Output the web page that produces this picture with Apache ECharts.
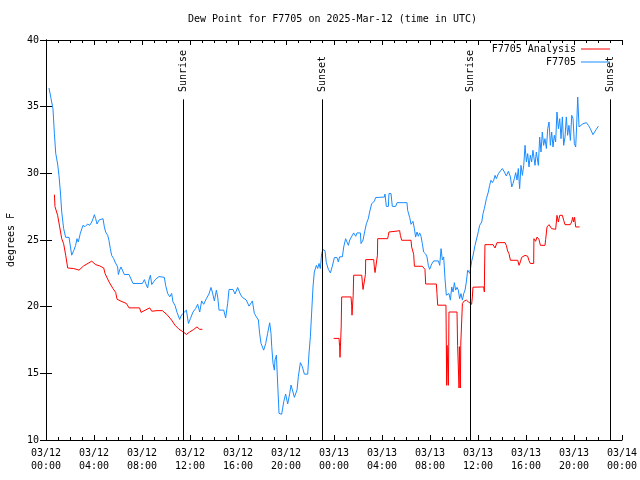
<!DOCTYPE html>
<html><head><meta charset="utf-8">
<script src="https://cdn.jsdelivr.net/npm/echarts@6/dist/echarts.min.js"></script>
<style>html,body{margin:0;padding:0;background:#fff}#c{width:640px;height:480px}</style>
</head><body><div id="c"></div>
<script>
const FONT = '"DejaVu Sans Mono", "Liberation Mono", monospace';
const titleText = 'Dew Point for F7705 on 2025-Mar-12 (time in UTC)';
const seriesNames = ['F7705 Analysis', 'F7705'];
const xTickLabels = ['03/12\n00:00','03/12\n04:00','03/12\n08:00','03/12\n12:00','03/12\n16:00','03/12\n20:00',
  '03/13\n00:00','03/13\n04:00','03/13\n08:00','03/13\n12:00','03/13\n16:00','03/13\n20:00','03/14\n00:00'];
const sunHours = [11.42, 23.0, 35.37, 47.03];
const sunLabels = ['Sunrise', 'Sunset', 'Sunrise', 'Sunset'];
const sunLineTop = 35.55;
const sunLabelBase = 36.1;

// hours since 03/12 00:00 UTC
const blueHours = [0.25,0.42,0.58,0.70,0.81,0.97,1.08,1.20,1.31,1.47,1.64,1.92,2.14,2.31,2.47,2.58,2.69,2.86,3.08,3.25,3.47,3.64,3.81,3.92,4.03,4.14,4.25,4.42,4.58,4.75,4.86,4.97,5.14,5.25,5.36,5.47,5.64,5.75,5.86,5.97,6.03,6.14,6.25,6.36,6.53,6.92,7.08,7.25,8.03,8.20,8.31,8.47,8.58,8.70,8.81,8.97,9.14,9.42,9.86,9.97,10.14,10.31,10.47,10.58,10.75,10.92,11.14,11.25,11.42,11.70,11.87,12.03,12.25,12.47,12.64,12.81,12.97,13.14,13.36,13.58,13.75,13.86,14.03,14.20,14.31,14.42,14.81,14.97,15.14,15.25,15.58,15.75,15.97,16.19,16.36,16.69,16.92,17.20,17.36,17.53,17.70,17.80,17.92,18.14,18.31,18.47,18.64,18.75,18.81,18.92,19.03,19.08,19.20,19.31,19.42,19.64,19.81,19.97,20.14,20.31,20.42,20.58,20.70,20.92,21.03,21.20,21.36,21.53,21.81,21.92,22.03,22.14,22.25,22.36,22.53,22.64,22.75,22.86,22.97,23.08,23.25,23.36,23.53,23.70,23.86,24.03,24.25,24.36,24.47,24.70,24.81,24.97,25.08,25.20,25.31,25.47,25.64,25.81,25.92,26.20,26.25,26.42,26.58,26.70,26.86,26.97,27.14,27.36,27.47,27.80,28.20,28.25,28.36,28.53,28.58,28.75,28.86,29.14,29.25,30.08,30.14,30.31,30.42,30.58,30.70,30.80,30.92,31.03,31.14,31.25,31.36,31.47,31.64,31.75,31.86,31.97,32.14,32.31,32.70,32.81,32.92,33.03,33.14,33.25,33.36,33.47,33.58,33.70,33.81,33.92,34.03,34.14,34.25,34.36,34.47,34.58,34.70,34.81,34.92,35.03,35.14,35.31,35.47,35.58,35.75,35.92,36.03,36.14,36.31,36.42,36.53,36.70,36.86,36.97,37.08,37.20,37.31,37.42,37.53,37.70,37.86,38.03,38.20,38.36,38.53,38.70,38.81,38.92,39.03,39.14,39.25,39.36,39.47,39.58,39.70,39.81,39.92,40.03,40.14,40.25,40.36,40.47,40.58,40.75,40.86,41.03,41.14,41.25,41.36,41.47,41.58,41.70,41.81,41.92,42.03,42.14,42.25,42.36,42.47,42.58,42.70,42.81,42.92,43.03,43.14,43.25,43.36,43.47,43.58,43.70,43.81,43.92,44.03,44.14,44.20,44.31,44.42,44.53,44.75,45.03,45.20,45.36,45.58,45.86,46.03];
const blueValues = [36.4,35.6,34.85,32.97,31.5,30.7,29.85,28.6,27.1,25.86,25.2,25.2,23.86,24.2,24.6,25.1,24.85,25.5,26.1,26.0,26.2,26.1,26.35,26.6,26.9,26.6,26.2,26.5,26.55,26.6,26.0,25.6,25.35,24.95,24.35,23.85,23.6,23.35,23.35,22.98,22.41,22.75,22.98,22.75,22.41,22.41,22.4,21.74,21.74,22.03,21.74,21.4,22.0,22.36,21.66,21.86,22.06,22.26,22.2,21.6,20.99,20.74,20.99,20.36,20.1,19.57,19.04,19.3,19.5,19.74,18.74,19.1,19.6,19.86,20.18,19.6,20.43,20.18,20.6,20.95,21.44,21.1,20.43,21.24,20.7,19.74,19.74,19.16,20.24,21.29,21.29,20.95,21.44,20.95,20.7,20.5,20.04,20.43,19.5,19.24,19.0,18.0,17.24,16.74,17.24,18.0,18.79,18.0,17.0,15.74,15.24,16.0,16.36,14.12,12.0,11.93,12.87,13.45,12.7,13.5,14.12,13.6,13.2,13.76,14.77,15.8,15.5,14.94,14.94,16.53,17.74,19.6,21.48,22.6,23.1,22.86,23.24,22.86,23.98,24.28,24.2,23.3,22.8,22.53,23.03,23.68,23.68,23.36,23.74,23.74,24.48,25.1,24.85,24.6,25.0,24.98,25.53,25.28,25.53,25.53,24.73,25.0,25.73,26.23,26.6,27.1,27.73,27.9,28.18,28.2,28.22,28.45,27.52,27.52,28.48,28.48,27.52,27.52,27.8,27.8,27.22,26.68,26.18,26.4,25.85,25.22,25.6,25.28,25.53,25.28,24.73,24.1,23.95,23.73,23.1,22.8,23.2,23.43,23.43,23.1,24.35,23.5,23.73,22.1,20.86,20.73,20.98,20.49,21.48,21.1,21.8,21.24,21.45,21.24,20.6,20.98,20.49,20.98,21.24,21.86,22.74,22.5,23.4,23.8,24.6,25.22,25.65,26.1,26.35,26.98,27.36,28.1,28.6,29.1,29.48,29.3,29.48,29.85,29.6,29.98,29.85,30.36,30.1,29.8,30.15,29.74,28.98,29.24,29.6,30.05,29.5,30.36,28.85,30.6,29.85,30.6,32.1,30.86,31.48,30.48,31.36,30.86,31.73,30.6,31.6,30.6,32.72,31.6,33.1,32.1,32.6,31.86,33.35,33.85,32.1,33.1,31.98,32.85,32.35,34.6,33.35,34.1,32.6,34.23,32.1,32.72,34.23,32.85,33.6,32.47,34.35,34.1,32.22,31.98,33.1,35.72,33.48,33.6,33.72,33.8,33.6,33.35,32.9,33.3,33.54];

const redHours = [0.70,0.75,0.86,0.97,1.14,1.31,1.47,1.64,1.81,2.31,2.75,3.14,3.81,4.14,4.47,4.81,4.92,5.25,5.58,5.81,5.92,6.25,6.70,6.92,7.80,7.92,8.25,8.64,8.81,9.25,9.70,10.08,10.47,10.75,11.08,11.36,11.70,11.97,12.31,12.58,12.69,12.81,13.03,
  18.0,
  23.97,24.42,24.47,24.50,24.58,24.60,24.64,25.42,25.47,25.50,25.56,25.60,25.64,26.31,26.36,26.42,26.58,26.62,26.64,27.31,27.36,27.42,27.58,27.62,27.64,28.47,28.53,28.58,29.25,29.47,29.53,29.64,30.42,30.47,30.64,30.70,31.36,31.47,31.58,31.64,32.53,32.58,32.64,33.33,33.36,33.39,33.42,33.50,33.53,33.56,33.58,34.25,34.30,34.39,34.42,34.45,34.50,34.53,34.56,34.64,34.70,34.86,35.03,35.20,35.36,35.47,35.53,35.58,36.47,36.53,36.55,36.58,37.25,37.42,37.58,38.25,38.36,38.47,38.58,38.70,39.31,39.42,39.53,39.64,39.92,40.14,40.25,40.36,40.64,40.66,40.75,40.80,40.92,41.08,41.20,41.58,41.64,41.75,41.92,42.08,42.14,42.47,42.53,42.58,42.70,42.81,43.03,43.14,43.25,43.69,43.80,43.89,43.97,44.05,44.14,44.47];
const redValues = [28.4,27.5,27.35,26.85,25.98,25.1,24.72,23.86,22.9,22.86,22.74,23.06,23.41,23.15,23.06,22.9,22.49,21.86,21.36,21.06,20.56,20.41,20.24,19.91,19.91,19.57,19.73,19.91,19.66,19.70,19.70,19.41,18.99,18.61,18.31,18.15,17.92,18.10,18.29,18.48,18.55,18.3,18.3,
  null,
  17.62,17.62,17.0,16.2,16.2,18.48,20.73,20.73,20.11,19.36,19.36,20.86,22.36,22.36,21.86,21.29,21.29,22.43,23.53,23.53,22.98,22.56,22.56,23.86,25.10,25.10,25.35,25.60,25.67,25.70,25.35,24.98,24.98,24.48,23.93,23.03,23.03,22.90,22.80,21.70,21.70,20.99,20.11,20.11,17.1,14.1,17.1,17.1,14.1,17.0,19.6,19.6,17.1,17.0,13.9,17.0,17.0,13.9,17.1,17.1,20.24,20.43,20.49,20.36,20.24,20.18,20.73,21.46,21.48,21.1,22.9,24.65,24.65,24.40,24.80,24.80,24.60,24.18,23.98,23.48,23.48,23.10,23.36,23.70,23.85,23.78,23.45,23.24,23.24,25.10,25.10,24.90,25.22,25.05,24.60,24.60,25.05,25.98,26.15,26.15,25.85,25.80,26.35,26.85,26.35,26.85,26.85,26.48,26.15,26.15,26.35,26.70,26.35,26.70,25.98,25.98];

const RED = '#ff0000';
const BLUE = '#1a8cff';
const zip = (a, b) => a.map((v, i) => [v, b[i]]);

const chart = echarts.init(document.getElementById('c'), null, {renderer: 'canvas'});
const axisBase = {
  type: 'value', min: 0, max: 48, interval: 4,
  axisLine: {show: true, lineStyle: {color: '#000', width: 1}},
  splitLine: {show: false}
};
const option = {
  backgroundColor: '#fff',
  animation: false,
  title: {
    text: titleText, left: 188, top: 14, padding: 0,
    textStyle: {fontFamily: FONT, fontSize: 10, fontWeight: 'normal', color: '#000'}
  },
  legend: [
    {data: [seriesNames[0]], right: 30, top: 44, padding: 0, align: 'right', icon: 'rect',
     itemWidth: 29, itemHeight: 1, textStyle: {fontFamily: FONT, fontSize: 10, color: '#000'}},
    {data: [seriesNames[1]], right: 30, top: 57, padding: 0, align: 'right', icon: 'rect',
     itemWidth: 29, itemHeight: 1, textStyle: {fontFamily: FONT, fontSize: 10, color: '#000'}}
  ],
  grid: {left: 46, right: 18, top: 40, bottom: 40, containLabel: false, outerBoundsMode: 'none'},
  xAxis: [
    Object.assign({}, axisBase, {
      position: 'bottom',
      axisTick: {show: true, inside: true, length: 5, lineStyle: {color: '#000'}},
      minorTick: {show: true, splitNumber: 4, length: 3, lineStyle: {color: '#000'}},
      axisLabel: {show: true, margin: 7, fontFamily: FONT, fontSize: 10, color: '#000', lineHeight: 13,
        formatter: v => xTickLabels[Math.round(v / 4)] || ''}
    }),
    Object.assign({}, axisBase, {
      position: 'top',
      axisTick: {show: true, inside: true, length: 5, lineStyle: {color: '#000'}},
      minorTick: {show: true, splitNumber: 4, length: 3, lineStyle: {color: '#000'}},
      axisLabel: {show: false}
    })
  ],
  yAxis: [
    {type: 'value', min: 10, max: 40, interval: 5, position: 'left',
     name: 'degrees F', nameLocation: 'middle', nameGap: 29,
     nameTextStyle: {fontFamily: FONT, fontSize: 10, color: '#000'},
     axisLine: {show: true, lineStyle: {color: '#000'}},
     axisTick: {show: true, inside: true, length: 6, lineStyle: {color: '#000'}},
     axisLabel: {margin: 7, fontFamily: FONT, fontSize: 10, color: '#000'},
     splitLine: {show: false}},
    {type: 'value', min: 10, max: 40, interval: 5, position: 'right',
     axisLine: {show: true, lineStyle: {color: '#000'}},
     axisTick: {show: true, inside: true, length: 6, lineStyle: {color: '#000'}},
     axisLabel: {show: false}, splitLine: {show: false}}
  ],
  series: [
    {name: seriesNames[0], type: 'line', data: zip(redHours, redValues), symbol: 'none',
     connectNulls: false, color: RED, lineStyle: {color: RED, width: 1}, emphasis: {disabled: true}, z: 3},
    {name: seriesNames[1], type: 'line', data: zip(blueHours, blueValues), symbol: 'none',
     color: BLUE, lineStyle: {color: BLUE, width: 1}, emphasis: {disabled: true}, z: 2,
     markLine: {silent: true, symbol: 'none', label: {show: false},
       lineStyle: {color: '#000', width: 1, type: 'solid'},
       data: sunHours.map(h => [{coord: [h, sunLineTop]}, {coord: [h, 10]}])}}
  ]
};
chart.setOption(option);
const sunGraphics = sunHours.map((h, i) => {
  const p = chart.convertToPixel({gridIndex: 0}, [h, sunLabelBase]);
  return {type: 'text', x: p[0], y: p[1], rotation: Math.PI / 2,
    style: {text: sunLabels[i], fill: '#000', font: '10px ' + FONT, textAlign: 'left', textVerticalAlign: 'middle'},
    silent: true, z: 10};
});
chart.setOption({graphic: sunGraphics});
</script></body></html>
